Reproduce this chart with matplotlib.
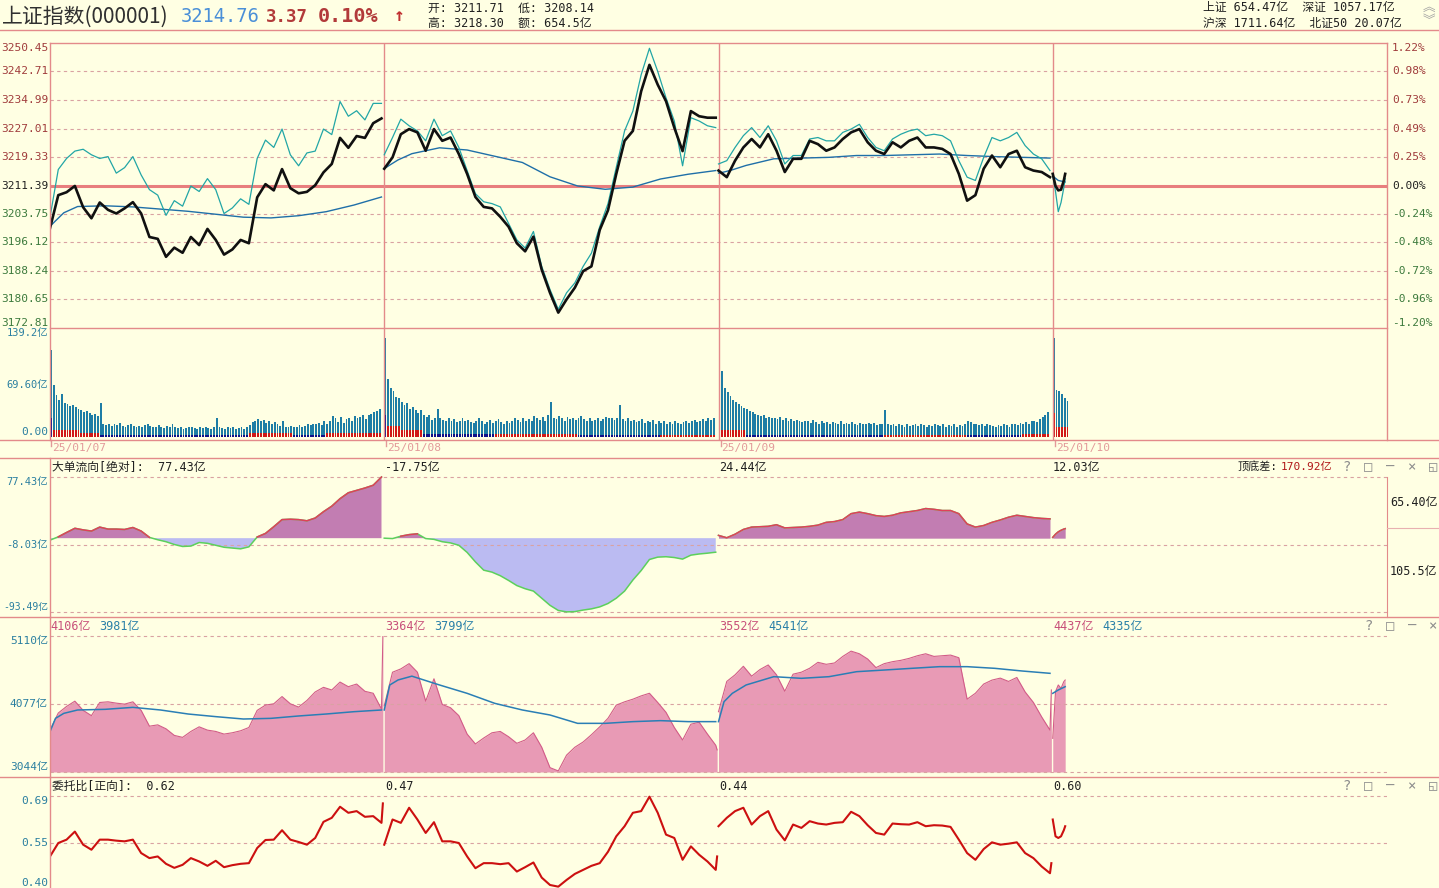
import matplotlib
matplotlib.use("Agg")
import matplotlib.pyplot as plt
from matplotlib.lines import Line2D
from matplotlib import transforms
import numpy as np

plt.rcParams['font.family'] = ['DejaVu Sans Mono', 'Noto Sans CJK SC']

W, H = 1439, 888
BG = "#FFFFE3"
FRAME = "#E38A8A"
GRID = "#D9A2A2"
TEAL_TXT = "#2A7FA0"
UP_TXT = "#A03C3C"
DN_TXT = "#3C7A3C"

# ---- time grids (minutes from the open of each session) ----
DAY_LEN = 242
T6 = list(range(0, 241, 6))
T_AVG = [0, 4, 10, 20, 40, 60, 80, 100, 120, 140, 160, 180, 200, 220, 240]
T_D4 = [0, 2, 4, 6, 8, 9]
T_AVG_D4 = [0, 4, 9]
DATES = ["25/01/07", "25/01/08", "25/01/09", "25/01/10"]

# ---- price panel ----
PRE_CLOSE = 3211.39
PRICE_TICKS = [3250.45, 3242.71, 3234.99, 3227.01, 3219.33, 3211.39,
               3203.75, 3196.12, 3188.24, 3180.65, 3172.81]
PCT_TICKS = ["1.22%", "0.98%", "0.73%", "0.49%", "0.25%", "0.00%",
             "-0.24%", "-0.48%", "-0.72%", "-0.96%", "-1.20%"]

black_d1 = [3200.0, 3209.0, 3209.8, 3211.5, 3205.7, 3202.7, 3207.0, 3205.0, 3204.0, 3205.4,
            3207.1, 3204.0, 3197.6, 3197.1, 3192.2, 3194.7, 3193.3, 3197.6, 3195.4, 3199.8,
            3196.8, 3192.8, 3194.2, 3196.8, 3195.9, 3208.4, 3212.0, 3210.3, 3216.1, 3210.9,
            3209.5, 3209.9, 3211.7, 3215.2, 3217.5, 3224.6, 3221.9, 3225.1, 3224.6, 3228.6, 3229.9]
black_d2 = [3216.2, 3219.3, 3225.6, 3227.0, 3226.1, 3221.1, 3227.0, 3223.8, 3224.7, 3220.2,
            3214.8, 3208.5, 3205.8, 3205.4, 3203.1, 3200.4, 3195.9, 3193.7, 3197.7, 3188.7,
            3182.4, 3177.0, 3180.6, 3183.8, 3188.3, 3189.6, 3199.5, 3204.9, 3214.8, 3223.8,
            3226.5, 3237.3, 3244.5, 3239.1, 3234.6, 3227.4, 3221.0, 3231.9, 3230.5, 3230.1, 3230.1]
black_d3 = [3215.7, 3213.9, 3218.4, 3222.0, 3224.3, 3222.0, 3225.6, 3221.1, 3215.3, 3218.9,
            3218.9, 3223.8, 3222.9, 3221.1, 3222.0, 3224.3, 3226.1, 3227.0, 3223.4, 3221.1,
            3220.2, 3223.4, 3222.0, 3223.8, 3224.7, 3222.0, 3222.0, 3221.6, 3220.2, 3214.8,
            3207.5, 3209.0, 3216.2, 3219.8, 3216.6, 3220.2, 3221.1, 3216.6, 3215.7, 3215.3, 3213.9]
black_d4 = [3214.8, 3211.5, 3210.3, 3210.5, 3213.0, 3214.8]

cyan_d1 = [3203.0, 3216.0, 3219.0, 3221.0, 3221.5, 3220.0, 3219.0, 3219.5, 3215.0, 3216.5,
           3219.5, 3214.5, 3210.5, 3209.0, 3203.5, 3207.5, 3206.0, 3211.5, 3210.0, 3213.5,
           3210.5, 3204.0, 3205.5, 3208.0, 3206.5, 3219.0, 3224.0, 3222.0, 3227.0, 3220.0,
           3217.0, 3220.5, 3221.0, 3227.0, 3225.5, 3234.5, 3230.5, 3232.0, 3229.5, 3234.0, 3234.0]
cyan_d2 = [3220.0, 3224.7, 3229.7, 3227.9, 3226.5, 3223.8, 3229.7, 3225.2, 3226.5, 3222.0,
           3215.7, 3209.4, 3207.2, 3206.7, 3205.8, 3201.3, 3196.8, 3194.6, 3199.1, 3189.6,
           3183.3, 3177.9, 3182.4, 3185.1, 3189.6, 3193.2, 3200.4, 3206.7, 3216.6, 3226.5,
           3231.9, 3241.8, 3249.0, 3242.7, 3235.5, 3229.2, 3217.0, 3230.1, 3229.2, 3227.9, 3227.4]
cyan_d3 = [3217.5, 3218.4, 3222.0, 3225.2, 3227.4, 3224.7, 3227.9, 3223.8, 3217.5, 3219.8,
           3219.8, 3224.3, 3224.7, 3223.8, 3223.8, 3226.1, 3227.0, 3228.3, 3224.7, 3222.0,
           3221.1, 3224.3, 3225.6, 3226.5, 3227.0, 3225.2, 3225.6, 3225.2, 3223.8, 3218.4,
           3213.9, 3213.0, 3219.3, 3224.7, 3223.8, 3224.7, 3226.1, 3222.5, 3220.2, 3218.9, 3215.7]
cyan_d4 = [3214.5, 3210.0, 3204.5, 3207.0, 3211.0, 3213.5]

avg_d1 = [3200.5, 3202.0, 3204.2, 3205.9, 3206.1, 3205.8, 3205.2, 3204.6, 3203.8, 3203.0,
          3202.8, 3203.4, 3204.5, 3206.3, 3208.5]
avg_d2 = [3216.2, 3217.2, 3218.6, 3220.3, 3221.9, 3221.3, 3219.6, 3217.9, 3214.0, 3211.5,
          3210.6, 3211.2, 3213.4, 3214.7, 3215.7]
avg_d3 = [3215.0, 3215.3, 3215.9, 3217.1, 3218.9, 3219.1, 3219.3, 3219.8, 3219.8, 3220.0,
          3220.2, 3219.8, 3219.5, 3219.3, 3219.1]
avg_d4 = [3214.2, 3213.0, 3212.6]

# ---- volume panel (亿, one bar per 2 minutes) ----
vol_d1 = [116, 70, 56, 50, 57, 46, 44, 42, 43, 40, 38, 36, 33, 35, 32, 30, 31, 28, 45, 17,
          16, 18, 15, 17, 16, 19, 15, 14, 16, 18, 15, 13, 15, 14, 16, 17, 15, 14, 13, 16,
          14, 12, 15, 13, 18, 14, 12, 13, 11, 12, 13, 14, 12, 11, 13, 12, 14, 12, 11, 13,
          26, 14, 12, 11, 13, 12, 14, 11, 12, 13, 11, 14, 16, 20, 22, 24, 21, 23, 19, 21,
          18, 20, 17, 15, 22, 14, 13, 15, 14, 13, 16, 14, 15, 17, 16, 18, 17, 19, 16, 21,
          18, 22, 28, 25, 20, 27, 19, 24, 26, 22, 28, 25, 27, 30, 24, 29, 31, 34, 35, 38]
vol_d2 = [132, 78, 65, 61, 54, 52, 47, 43, 45, 38, 40, 36, 32, 36, 29, 27, 30, 23, 26, 37,
          25, 23, 22, 26, 21, 24, 20, 22, 25, 21, 23, 20, 19, 22, 26, 21, 18, 20, 23, 19,
          21, 24, 20, 18, 22, 19, 21, 25, 23, 20, 26, 22, 24, 21, 28, 25, 23, 27, 22, 30,
          47, 26, 24, 28, 25, 22, 27, 24, 26, 23, 25, 28, 24, 22, 26, 21, 23, 25, 22, 24,
          27, 25, 25, 23, 26, 43, 24, 22, 25, 21, 23, 20, 22, 24, 19, 21, 20, 23, 18, 21,
          19, 22, 18, 20, 17, 21, 19, 18, 20, 22, 19, 21, 23, 20, 22, 24, 21, 25, 23, 26]
vol_d3 = [139, 88, 66, 60, 55, 50, 47, 44, 41, 39, 37, 35, 33, 31, 30, 28, 29, 26, 27, 25,
          26, 24, 27, 23, 25, 22, 24, 21, 23, 22, 20, 22, 21, 19, 23, 20, 18, 21, 19, 20,
          18, 20, 19, 17, 21, 18, 19, 17, 20, 18, 16, 19, 17, 18, 19, 17, 19, 16, 18, 17,
          36, 17, 16, 18, 15, 17, 16, 14, 17, 15, 16, 18, 15, 17, 16, 14, 16, 15, 17, 16,
          15, 17, 14, 16, 15, 17, 14, 16, 15, 18, 22, 20, 18, 17, 16, 18, 15, 17, 16, 15,
          14, 16, 15, 17, 16, 14, 17, 18, 16, 19, 18, 20, 17, 21, 22, 20, 24, 27, 30, 33]
vol_d4 = [132, 63, 61, 57, 52, 48]
# bottom part of each bar: (first bar, last bar, height); >0 red, <0 dark blue
base_runs_d1 = [(0, 1, -25), (1, 11, 9), (11, 18, 6), (18, 72, -3), (72, 88, 5), (88, 100, -3), (100, 120, 5)]
base_runs_d2 = [(0, 1, -29), (1, 6, 15), (6, 14, 10), (14, 40, -4), (40, 70, 4), (70, 100, -3), (100, 120, 3)]
base_runs_d3 = [(0, 1, -30), (1, 10, 10), (10, 60, -3), (60, 90, 3), (90, 110, -3), (110, 120, 4)]
base_runs_d4 = [(0, 1, 32), (1, 6, 13)]

# ---- 大单流向 panel (亿) ----
flow_d1 = [-2.5, 1.7, 7.2, 12.5, 10.5, 9.0, 14.0, 11.5, 11.5, 11.0, 13.5, 9.0, 1.0, -2.0,
           -4.5, -8.0, -10.5, -10.0, -5.5, -6.5, -9.0, -11.5, -12.5, -13.5, -11.0, 1.5, 6.0,
           14.5, 23.5, 24.0, 23.5, 22.0, 25.5, 33.5, 40.5, 50.0, 57.5, 60.5, 63.5, 67.0, 77.43]
flow_d2 = [0.0, -0.5, 2.5, 4.5, 5.5, -0.5, -1.5, -4.5, -6.0, -9.0, -18.0, -30.0, -40.5, -43.0,
           -47.5, -53.5, -60.0, -64.0, -67.0, -76.0, -85.0, -91.5, -93.3, -93.0, -91.0, -89.5,
           -87.0, -82.7, -76.0, -67.0, -53.0, -41.0, -27.0, -24.0, -23.5, -24.5, -26.5, -21.5,
           -20.0, -19.0, -17.75]
flow_d3 = [3.5, 0.5, 5.0, 11.0, 14.0, 14.5, 15.0, 17.0, 13.0, 13.5, 14.0, 15.0, 16.5, 20.0,
           21.0, 23.5, 31.0, 33.0, 31.0, 28.5, 27.5, 29.0, 32.0, 33.5, 35.0, 37.5, 36.5, 35.0,
           35.0, 31.0, 18.0, 14.0, 16.0, 20.0, 23.0, 26.5, 29.0, 27.5, 26.0, 25.0, 24.44]
flow_d4 = [1.0, 5.0, 8.0, 10.0, 11.5, 12.03]
FLOW_TICKS = [77.43, -8.03, -93.49]
FLOW_HEAD = ["77.43亿", "-17.75亿", "24.44亿", "12.03亿"]

# ---- 成交额 panel (亿) ----
amt_d1 = [3682, 3940, 4040, 4120, 3980, 3900, 4100, 4110, 4090, 4075, 4110, 3980, 3740, 3760,
          3700, 3600, 3570, 3660, 3730, 3680, 3660, 3620, 3640, 3670, 3720, 3980, 4060, 4080,
          4190, 4080, 4030, 4130, 4260, 4330, 4290, 4410, 4340, 4380, 4270, 4240, 4000]
amt_d2 = [4050, 4560, 4610, 4690, 4560, 4120, 4460, 4070, 4020, 3900, 3620, 3470, 3560, 3640,
          3660, 3580, 3480, 3530, 3640, 3420, 3110, 3060, 3300, 3420, 3500, 3610, 3730, 3860,
          4060, 4110, 4150, 4200, 4240, 4100, 3950, 3720, 3530, 3770, 3800, 3620, 3450]
amt_d3 = [3960, 4420, 4520, 4650, 4500, 4600, 4670, 4520, 4270, 4530, 4560, 4620, 4710, 4680,
          4700, 4800, 4880, 4840, 4760, 4630, 4690, 4720, 4740, 4770, 4810, 4840, 4800, 4810,
          4820, 4780, 4150, 4240, 4380, 4440, 4470, 4420, 4480, 4260, 4100, 3880, 3680]
amt_d4 = [3555, 4264, 4366, 4315, 4416, 4441]
amt_close = [5100, 3380, 4290]
amt_avg_d1 = [3657, 3859, 3935, 3986, 3996, 4026, 3986, 3925, 3885, 3849, 3859, 3895, 3925, 3960, 3986]
amt_avg_d2 = [3986, 4366, 4442, 4500, 4366, 4239, 4087, 3986, 3910, 3783, 3783, 3809, 3824, 3809, 3809]
amt_avg_d3 = [3809, 4112, 4239, 4366, 4492, 4467, 4492, 4568, 4593, 4619, 4644, 4644, 4619, 4578, 4543]
amt_avg_d4 = [4239, 4290, 4340]
AMT_TICKS = [5110, 4077, 3044]
AMT_HEAD = [("4106亿", "3981亿"), ("3364亿", "3799亿"), ("3552亿", "4541亿"), ("4437亿", "4335亿")]

# ---- 委托比 panel ----
ratio_d1 = [0.51, 0.55, 0.56, 0.584, 0.545, 0.53, 0.56, 0.56, 0.557, 0.555, 0.56, 0.52, 0.505,
            0.51, 0.488, 0.476, 0.485, 0.505, 0.495, 0.482, 0.497, 0.478, 0.484, 0.488, 0.49,
            0.535, 0.559, 0.56, 0.588, 0.56, 0.553, 0.545, 0.565, 0.613, 0.625, 0.658, 0.64,
            0.645, 0.628, 0.63, 0.61]
ratio_d2 = [0.545, 0.62, 0.61, 0.655, 0.62, 0.58, 0.612, 0.555, 0.555, 0.55, 0.51, 0.475, 0.49,
            0.49, 0.487, 0.49, 0.465, 0.478, 0.492, 0.447, 0.425, 0.42, 0.44, 0.458, 0.47, 0.482,
            0.49, 0.524, 0.57, 0.6, 0.64, 0.645, 0.688, 0.64, 0.575, 0.565, 0.5, 0.54, 0.515,
            0.495, 0.47]
ratio_d3 = [0.6, 0.625, 0.645, 0.655, 0.605, 0.63, 0.645, 0.59, 0.558, 0.605, 0.595, 0.615,
            0.608, 0.605, 0.61, 0.612, 0.643, 0.63, 0.603, 0.58, 0.575, 0.608, 0.606, 0.605,
            0.612, 0.6, 0.603, 0.602, 0.598, 0.56, 0.52, 0.5, 0.532, 0.552, 0.545, 0.548, 0.552,
            0.52, 0.505, 0.48, 0.46]
ratio_d4 = [0.62, 0.57, 0.565, 0.57, 0.588, 0.6]
ratio_close = [0.668, 0.51, 0.49]
RATIO_TICKS = [0.69, 0.55, 0.40]
RATIO_HEAD = ["0.62", "0.47", "0.44", "0.60"]


def fx(x):
    return x / W


def fy(y):
    return 1 - y / H


def rect(x0, y0, x1, y1):
    return [x0 / W, 1 - y1 / H, (x1 - x0) / W, (y1 - y0) / H]


def day_x(d, t):
    return d * DAY_LEN + np.asarray(t, dtype=float)


fig = plt.figure(figsize=(W / 100, H / 100), dpi=100)
fig.patch.set_facecolor(BG)


def hline(y, x0, x1, color=FRAME, lw=1.0):
    fig.add_artist(Line2D([fx(x0), fx(x1)], [fy(y), fy(y)], transform=fig.transFigure, color=color, lw=lw))


def vline(x, y0, y1, color=FRAME, lw=1.0):
    fig.add_artist(Line2D([fx(x), fx(x)], [fy(y0), fy(y1)], transform=fig.transFigure, color=color, lw=lw))


def ftext(x, y, s, **kw):
    kw.setdefault("va", "center")
    fig.text(fx(x), fy(y), s, **kw)


def new_ax(r, ylim):
    ax = fig.add_axes(r)
    ax.set_facecolor(BG)
    ax.patch.set_alpha(0)
    ax.set_xlim(0, 4 * DAY_LEN)
    ax.set_ylim(*ylim)
    ax.set_xticks([])
    ax.set_yticks([])
    for s in ax.spines.values():
        s.set_visible(False)
    return ax


def ylabel(ax, xpix, val, s, color, va="center", ha="right", size=8):
    tr = transforms.blended_transform_factory(fig.transFigure, ax.transData)
    ax.text(fx(xpix), val, s, transform=tr, ha=ha, va=va, color=color, fontsize=size, clip_on=False)


def dashed(ax, val):
    ax.axhline(val, color=GRID, lw=0.8, ls=(0, (3, 3)))


# ================= price panel =================
axp = new_ax(rect(50, 43, 1387, 328), (PRICE_TICKS[-1], PRICE_TICKS[0]))
for i, v in enumerate(PRICE_TICKS):
    if 0 < i < len(PRICE_TICKS) - 1 and v != PRE_CLOSE:
        dashed(axp, v)
axp.axhline(PRE_CLOSE, color="#E87E7E", lw=2.2)
for d in range(1, 4):
    axp.axvline(d * DAY_LEN, color=FRAME, lw=1.0)

blacks = [black_d1, black_d2, black_d3]
cyans = [cyan_d1, cyan_d2, cyan_d3]
avgs = [avg_d1, avg_d2, avg_d3]
for d in range(3):
    axp.plot(day_x(d, T_AVG), avgs[d], color="#1F6FA8", lw=1.0)
    axp.plot(day_x(d, T6), cyans[d], color="#22A6A6", lw=0.9)
    axp.plot(day_x(d, T6), blacks[d], color="#101010", lw=1.9)
axp.plot(day_x(3, T_AVG_D4), avg_d4, color="#1F6FA8", lw=1.0)
axp.plot(day_x(3, T_D4), cyan_d4, color="#22A6A6", lw=0.9)
axp.plot(day_x(3, T_D4), black_d4, color="#101010", lw=1.9)

for i, (v, p) in enumerate(zip(PRICE_TICKS, PCT_TICKS)):
    if v > PRE_CLOSE:
        c = UP_TXT
    elif v < PRE_CLOSE:
        c = DN_TXT
    else:
        c = "#202020"
    va = "top" if i == 0 else ("bottom" if i == len(PRICE_TICKS) - 1 else "center")
    ylabel(axp, 48, v, f"{v:.2f}", c, va=va)
    ylabel(axp, 1392, v, p, c, va=va, ha="left")

# ================= volume panel =================
axv = new_ax(rect(50, 328, 1387, 440), (-4, 146))
for d in range(1, 4):
    axv.axvline(d * DAY_LEN, color=FRAME, lw=1.0)
vols = [vol_d1, vol_d2, vol_d3, vol_d4]
runs = [base_runs_d1, base_runs_d2, base_runs_d3, base_runs_d4]
for d in range(4):
    v = np.asarray(vols[d], dtype=float)
    b = np.zeros_like(v)
    for k0, k1, h in runs[d]:
        b[k0:k1] = h
    xb = day_x(d, 2 * np.arange(len(v)))
    bh = np.minimum(np.abs(b), v)
    axv.bar(xb, v - bh, bottom=bh, width=1.35, color="#1E7DA5", lw=0, align="edge")
    axv.bar(xb, bh, width=1.35, color=np.where(b > 0, "#D01818", "#10108A"), lw=0, align="edge")
ylabel(axv, 48, 139.2, "139.2亿", TEAL_TXT, size=7.5)
ylabel(axv, 48, 69.6, "69.60亿", TEAL_TXT, size=7.5)
ylabel(axv, 48, 0, "0.00", TEAL_TXT, va="bottom")

for d, s in enumerate(DATES):
    xpix = 50 + d * DAY_LEN * 1337 / (4 * DAY_LEN) + (0 if d == 0 else 1)
    vline(xpix + 1, 440, 446, color="#E39A9A")
    ftext(xpix + 2, 448, s, color="#E39A9A", fontsize=8, ha="left")

# ================= 大单流向 panel =================
axf = new_ax(rect(50, 458, 1387, 617), (-99.8, 101.5))
for v in FLOW_TICKS:
    dashed(axf, v)
flows = [(T6, flow_d1), (T6, flow_d2), (T6, flow_d3), (T_D4, flow_d4)]
for d, (t, vals) in enumerate(flows):
    x = day_x(d, t)
    v = np.asarray(vals, dtype=float)
    axf.fill_between(x, v, 0, where=v >= 0, interpolate=True, color="#C27DB2", lw=0)
    axf.fill_between(x, v, 0, where=v <= 0, interpolate=True, color="#BBBBF2", lw=0)
    axf.plot(x, v, color="#5CD05C", lw=1.1)
    axf.plot(x, np.where(v >= 0, v, np.nan), color="#E0405A", lw=1.1)
ylabel(axf, 48, FLOW_TICKS[0], "77.43亿", TEAL_TXT, va="top", size=7.5)
ylabel(axf, 48, FLOW_TICKS[1], "-8.03亿", TEAL_TXT, size=7.5)
ylabel(axf, 48, FLOW_TICKS[2], "-93.49亿", TEAL_TXT, va="bottom", size=7)
ftext(52, 467, "大单流向[绝对]:  " + FLOW_HEAD[0], color="#202020", fontsize=8.5)
for d in range(1, 4):
    ftext([385, 719, 1053][d - 1], 467, FLOW_HEAD[d], color="#202020", fontsize=8.5)
ftext(1238, 467, "顶底差:", color="#202020", fontsize=8)
ftext(1281, 467, "170.92亿", color="#B01818", fontsize=8)
ftext(1390, 502, "65.40亿", color="#202020", fontsize=8.5)
ftext(1390, 572, "105.5亿", color="#202020", fontsize=8.5)

# ================= 成交额 panel =================
axa = new_ax(rect(50, 617, 1387, 777), (2968, 5398.6))
for v in AMT_TICKS:
    dashed(axa, v)
amts = [amt_d1, amt_d2, amt_d3]
amt_avgs = [amt_avg_d1, amt_avg_d2, amt_avg_d3]
for d in range(4):
    if d < 3:
        x = day_x(d, T6 + [241])
        v = np.asarray(amts[d] + [amt_close[d]], dtype=float)
        xa, va_ = day_x(d, T_AVG), amt_avgs[d]
    else:
        x = day_x(d, T_D4)
        v = np.asarray(amt_d4, dtype=float)
        xa, va_ = day_x(d, T_AVG_D4), amt_avg_d4
    axa.fill_between(x, v, AMT_TICKS[-1], color="#E89AB5", lw=0)
    axa.plot(x, v, color="#D25C88", lw=0.8)
    axa.plot(xa, va_, color="#2A7EB5", lw=1.1)
ylabel(axa, 48, AMT_TICKS[0], "5110亿", TEAL_TXT, va="top")
ylabel(axa, 48, AMT_TICKS[1], "4077亿", TEAL_TXT)
ylabel(axa, 48, AMT_TICKS[2], "3044亿", TEAL_TXT, va="bottom")
for d, (a, b) in enumerate(AMT_HEAD):
    x0 = [50, 385, 719, 1053][d]
    ftext(x0, 626, a, color="#C8507A", fontsize=8.5)
    ftext(x0 + 49, 626, b, color="#2A80A8", fontsize=8.5)

# ================= 委托比 panel =================
axr = new_ax(rect(50, 777, 1387, 888), (0.416, 0.7466))
for v in RATIO_TICKS[:2]:
    dashed(axr, v)
ratios = [ratio_d1, ratio_d2, ratio_d3]
for d in range(3):
    axr.plot(day_x(d, T6 + [241]), ratios[d] + [ratio_close[d]], color="#CC1010", lw=1.5)
axr.plot(day_x(3, T_D4), ratio_d4, color="#CC1010", lw=1.5)
ylabel(axr, 48, RATIO_TICKS[0], "0.69", TEAL_TXT, va="top")
ylabel(axr, 48, RATIO_TICKS[1], "0.55", TEAL_TXT)
axr.text(fx(48), 0.0, "0.40", transform=transforms.blended_transform_factory(fig.transFigure, axr.transAxes),
         ha="right", va="bottom", color=TEAL_TXT, fontsize=8, clip_on=False)
ftext(52, 786, "委托比[正向]:  " + RATIO_HEAD[0], color="#202020", fontsize=8.5)
for d in range(1, 4):
    ftext([385, 719, 1053][d - 1], 786, RATIO_HEAD[d], color="#202020", fontsize=8.5)

# ================= frames =================
hline(30, 0, 1439)
hline(43, 50, 1387)
hline(328, 50, 1387)
vline(50, 43, 440)
vline(1387, 43, 440)
hline(440, 0, 1439)
hline(458, 0, 1439)
vline(50, 458, 617)
vline(1387, 477, 617, lw=0.8)
hline(528, 1387, 1439, color="#E8B0B0", lw=0.8)
hline(617, 0, 1439)
vline(50, 617, 777)
hline(777, 0, 1439)
vline(50, 777, 888)

# icons
icon_kw = dict(color="#8C8C8C", fontsize=10, ha="center")
for yy in (467, 786):
    for xx, s in zip([1347, 1368, 1390, 1412, 1433], ["?", "□", "—", "×", "◱"]):
        ftext(xx, yy, s, **icon_kw)
for xx, s in zip([1369, 1390, 1412, 1433], ["?", "□", "—", "×"]):
    ftext(xx, 626, s, **icon_kw)

# ================= header =================
ftext(2, 17, "上证指数(000001)", color="#303030", fontsize=15, family=["Noto Sans CJK SC"])
ftext(181, 17, "3214.76", color="#4A8FD8", fontsize=13.5)
ftext(266, 17, "3.37", color="#B23A3A", fontsize=12.5, fontweight="bold")
ftext(318, 17, "0.10%", color="#B23A3A", fontsize=14.5, fontweight="bold")
ftext(394, 16, "↑", color="#C03030", fontsize=13, fontweight="bold")
ftext(428, 8, "开: 3211.71  低: 3208.14", color="#202020", fontsize=8.5)
ftext(428, 23, "高: 3218.30  额: 654.5亿", color="#202020", fontsize=8.5)
ftext(1203, 8, "上证 654.47亿  深证 1057.17亿", color="#202020", fontsize=8.5)
ftext(1203, 23, "沪深 1711.64亿  北证50 20.07亿", color="#202020", fontsize=8.5)
ftext(1429, 7, "︽", color="#A0A0A0", fontsize=9, ha="center", family=["Noto Sans CJK SC"])
ftext(1429, 21, "︾", color="#A0A0A0", fontsize=9, ha="center", family=["Noto Sans CJK SC"])

fig.savefig("out.png", dpi=100, facecolor=BG)
